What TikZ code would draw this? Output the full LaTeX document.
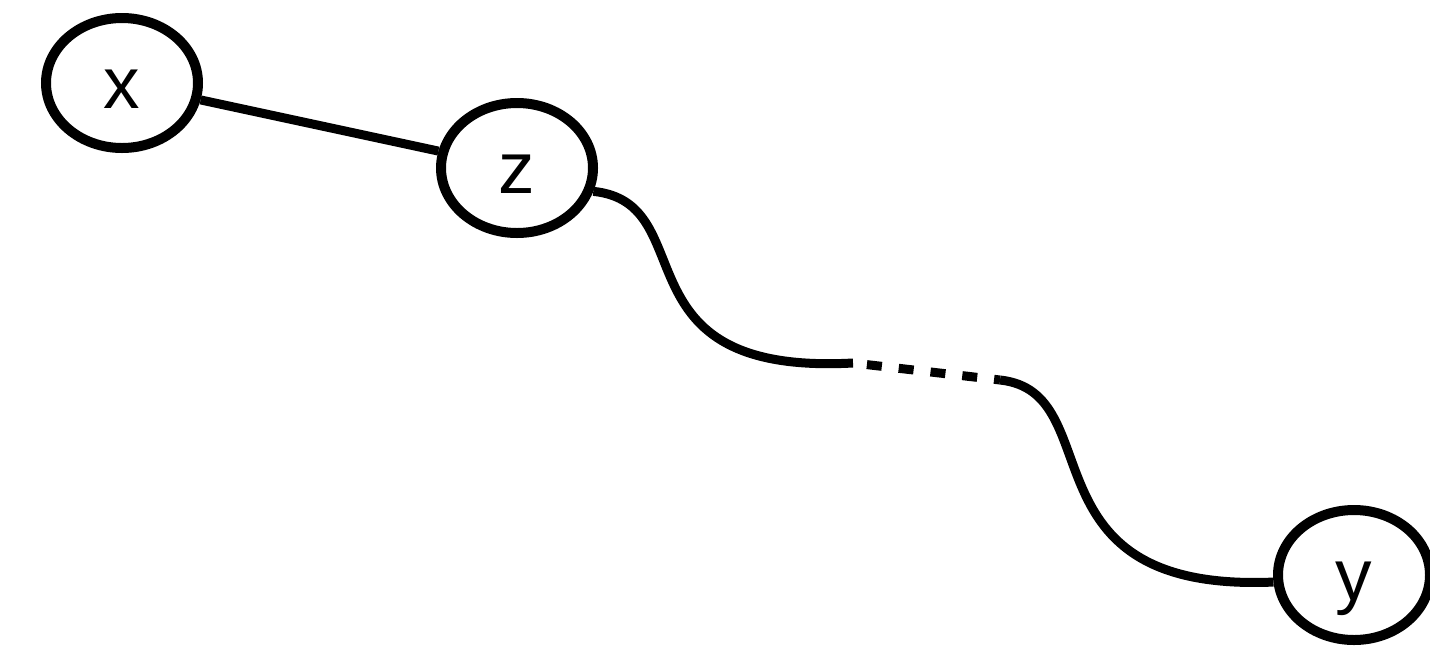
\documentclass[tikz,border=0pt]{standalone}
\usepackage{fontspec}
\setmainfont{Liberation Sans}
\usetikzlibrary{shapes.geometric}
\begin{document}
\begin{tikzpicture}[x=1pt,y=-1pt,
  vnode/.style={draw=black, line width=10pt, ellipse, minimum width=152pt, minimum height=130pt,
    inner sep=0pt, text height=60pt, text depth=10pt, font=\fontsize{73}{80}\selectfont},
  edgeline/.style={draw=black, line width=9pt},
  gapline/.style={draw=black, line width=9pt, dash pattern=on 15pt off 17pt, dash phase=18pt}]
\useasboundingbox (0,0) rectangle (1430,649);
\node[vnode] (x) at (122,83) {x};
\node[vnode] (z) at (517,168) {z};
\node[vnode] (y) at (1354,575) {y};
\coordinate (a) at (853,363);
\coordinate (b) at (1000,380);
\draw[edgeline] (x) -- (z);
\draw[edgeline] (z.-17) .. controls (705,203) and (612,376) .. (a);
\draw[gapline] (a) -- (b);
\draw[edgeline] (b) .. controls (1112,392) and (1018,593) .. (y.185);
\end{tikzpicture}
\end{document}
